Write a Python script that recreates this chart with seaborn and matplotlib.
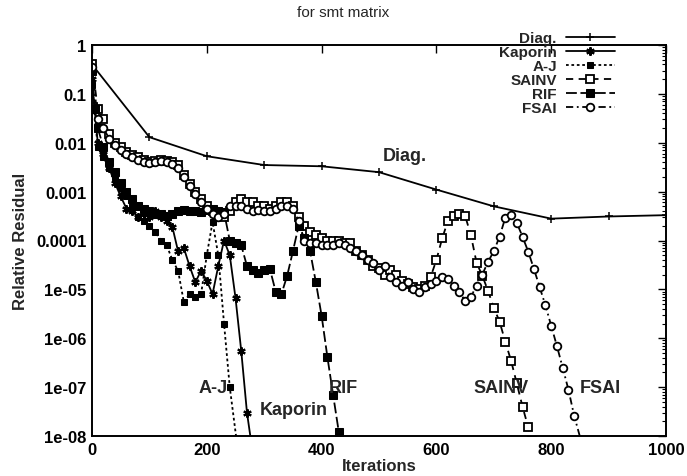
import matplotlib
matplotlib.use("Agg")
import matplotlib.pyplot as plt
import matplotlib.ticker as mticker
import numpy as np
import pandas as pd
import seaborn as sns

# ---------------- data ----------------
diag_it = [0, 100, 200, 300, 400, 500, 600, 700, 800, 900, 1000]
diag_res = [0.4, 0.013, 0.0053, 0.0035, 0.0033, 0.0025, 0.0011, 0.0005, 0.00028, 0.00031, 0.00033]

kap_it = [0, 10, 20, 30, 40, 50, 60, 70, 80, 90, 100, 110, 120, 130, 140, 150, 160,
          170, 180, 190, 200, 210, 220, 230, 240, 250, 260, 270, 277]
kap_res = [0.2, 0.01, 0.006, 0.003, 0.0015, 0.0008, 0.00045, 0.0004, 0.0003, 0.00035,
           0.0003, 0.0004, 0.0003, 0.00025, 0.00019, 0.00006, 0.00007, 0.00003, 0.000014,
           0.000024, 0.000015, 0.000008, 0.00003, 0.0001, 0.00005, 0.0000067, 0.00000055,
           0.00000003, 8e-9]

aj_it = [0, 10, 20, 30, 40, 50, 60, 70, 80, 90, 100, 110, 120, 130, 140, 150, 160,
         170, 180, 190, 200, 210, 220, 230, 240, 252]
aj_res = [0.15, 0.008, 0.005, 0.003, 0.002, 0.0012, 0.0008, 0.0005, 0.0003, 0.00025,
          0.0002, 0.00015, 0.0001, 0.00008, 0.00004, 0.000024, 0.0000055, 0.000008,
          0.000007, 0.000008, 0.00005, 0.00024, 0.00005, 0.000002, 0.0000001, 8e-9]

sainv_it = [0, 10, 20, 30, 40, 50, 60, 70, 80, 90, 100, 110, 120, 130, 140, 150, 160,
            170, 180, 190, 200, 210, 220, 230, 240, 250, 260, 270, 280, 290, 300, 310,
            320, 330, 340, 350, 360, 370, 380, 390, 400, 410, 420, 430, 440, 450, 460,
            470, 480, 490, 500, 510, 520, 530, 540, 550, 560, 570, 580, 590, 600, 610,
            620, 630, 640, 650, 660, 670, 680, 690, 700, 710, 720, 730, 740, 750, 760, 767]
sainv_res = [0.4, 0.05, 0.03, 0.015, 0.01, 0.008, 0.0065, 0.0055, 0.005, 0.0045, 0.004,
             0.0042, 0.0045, 0.0042, 0.004, 0.0035, 0.0022, 0.0014, 0.001, 0.0007, 0.0005,
             0.0004, 0.00035, 0.0003, 0.0004, 0.0006, 0.0007, 0.0006, 0.0006, 0.0005,
             0.0005, 0.00045, 0.0005, 0.0006, 0.0006, 0.0005, 0.0003, 0.0002, 0.00015,
             0.00013, 0.00011, 0.0001, 0.0001, 0.0001, 0.00009, 0.00009, 0.00006, 0.00005,
             0.00004, 0.00003, 0.000028, 0.00002, 0.000025, 0.00002, 0.000015, 0.000013,
             0.000011, 0.00001, 0.000012, 0.000018, 0.00004, 0.00011, 0.00025, 0.00031,
             0.00035, 0.00032, 0.00013, 0.000035, 0.000019, 0.0000093, 0.0000042,
             0.0000022, 0.00000085, 0.00000035, 0.00000012, 0.00000004, 0.000000015, 8e-9]

rif_it = [0, 5, 10, 20, 30, 40, 50, 60, 70, 80, 90, 100, 110, 120, 130, 140, 150, 160,
          170, 180, 190, 200, 210, 220, 230, 240, 250, 260, 270, 280, 290, 300, 310, 320,
          330, 340, 350, 360, 370, 380, 390, 400, 410, 420, 430, 434]
rif_res = [0.3, 0.05, 0.02, 0.008, 0.004, 0.0025, 0.0015, 0.001, 0.0007, 0.0005, 0.00045,
           0.0004, 0.00035, 0.00035, 0.00032, 0.00035, 0.0004, 0.00042, 0.0004, 0.0004,
           0.00038, 0.00042, 0.00045, 0.0004, 0.00038, 0.0001, 0.00009, 0.00008, 0.00003,
           0.000025, 0.000022, 0.000025, 0.000026, 0.000009, 0.000008, 0.000019, 0.00006,
           0.0002, 0.00011, 0.00006, 0.000014, 0.0000029, 0.00000042, 0.00000007, 1.2e-8,
           8e-9]

fsai_it = [0, 10, 20, 30, 40, 50, 60, 70, 80, 90, 100, 110, 120, 130, 140, 150, 160, 170,
           180, 190, 200, 210, 220, 230, 240, 250, 260, 270, 280, 290, 300, 310, 320, 330,
           340, 350, 360, 370, 380, 390, 400, 410, 420, 430, 440, 450, 460, 470, 480, 490,
           500, 510, 520, 530, 540, 550, 560, 570, 580, 590, 600, 610, 620, 630, 640, 650,
           660, 670, 680, 690, 700, 710, 720, 730, 740, 750, 760, 770, 780, 790, 800, 810,
           820, 830, 840, 852]
fsai_res = [0.35, 0.03, 0.02, 0.012, 0.009, 0.007, 0.006, 0.005, 0.0045, 0.004, 0.0038,
            0.004, 0.0043, 0.004, 0.0037, 0.003, 0.002, 0.0013, 0.0009, 0.0006, 0.00045,
            0.00035, 0.0003, 0.00035, 0.0005, 0.0005, 0.0005, 0.00045, 0.0004, 0.00042,
            0.0004, 0.0004, 0.00045, 0.0005, 0.0005, 0.00045, 0.00025, 0.0001, 0.00009,
            0.00009, 0.00008, 0.00008, 0.00008, 0.00009, 0.00008, 0.00007, 0.00006,
            0.00005, 0.00004, 0.000035, 0.000025, 0.00003, 0.000018, 0.000014, 0.000012,
            0.000014, 0.00001, 0.000009, 0.000011, 0.000013, 0.000015, 0.000018, 0.000016,
            0.000012, 0.000009, 0.0000058, 0.000007, 0.000012, 0.00002, 0.000037, 0.00006,
            0.00012, 0.00029, 0.00034, 0.00023, 0.00012, 0.000059, 0.000026, 0.000011,
            0.0000047, 0.0000018, 0.00000069, 0.00000025, 0.000000089, 0.000000026, 8e-9]

y_ticks = [1, 0.1, 0.01, 0.001, 0.0001, 1e-5, 1e-6, 1e-7, 1e-8]
y_tick_labels = ["1", "0.1", "0.01", "0.001", "0.0001", "1e-05", "1e-06", "1e-07", "1e-08"]
x_ticks = [0, 200, 400, 600, 800, 1000]

# ---------------- plot ----------------
sns.set_theme(style="white")
plt.rcParams["font.family"] = ["Liberation Sans", "DejaVu Sans"]
plt.rcParams["font.weight"] = "bold"

fig = plt.figure(figsize=(6.87, 4.77), dpi=100)
ax = fig.add_axes([92 / 687, 1 - 437 / 477, (666 - 92) / 687, (437 - 46) / 477])

series = [
    ("Diag.", diag_it, diag_res, dict(marker="+", markersize=6, mfc="black",
                                      linestyle="-", markeredgewidth=1.1)),
    ("Kaporin", kap_it, kap_res, dict(marker=(6, 2, 0), markersize=6, mfc="black",
                                      linestyle="-", markeredgewidth=1.5)),
    ("A-J", aj_it, aj_res, dict(marker="s", markersize=4.5, mfc="black",
                                linestyle=(0, (1.5, 1.5)))),
    ("SAINV", sainv_it, sainv_res, dict(marker="s", markersize=5.5, mfc="white",
                                        linestyle=(0, (4, 3)), markeredgewidth=1.3)),
    ("RIF", rif_it, rif_res, dict(marker="s", markersize=5.5, mfc="black",
                                  linestyle=(0, (6, 2)))),
    ("FSAI", fsai_it, fsai_res, dict(marker="o", markersize=5.5, mfc="white",
                                     linestyle=(0, (4, 2, 1, 2)), markeredgewidth=1.3)),
]

for name, xs, ys, style in series:
    df = pd.DataFrame({"Iterations": xs, "res": ys})
    sns.lineplot(data=df, x="Iterations", y="res", ax=ax, color="black",
                 linewidth=1.3, mec="black", sort=False, estimator=None,
                 label=name, **style)

ax.set_yscale("log")
ax.set_xlim(0, 1000)
ax.set_ylim(1e-8, 1)
ax.set_xticks(x_ticks)
ax.set_xticklabels([str(v) for v in x_ticks])
ax.yaxis.set_major_locator(mticker.FixedLocator(y_ticks))
ax.yaxis.set_major_formatter(mticker.FixedFormatter(y_tick_labels))
ax.yaxis.set_minor_locator(mticker.LogLocator(base=10, subs=np.arange(2, 10), numticks=20))
ax.yaxis.set_minor_formatter(mticker.NullFormatter())

ax.tick_params(axis="both", which="both", direction="in", top=True, right=True,
               colors="black", labelsize=12, pad=4)
ax.tick_params(axis="both", which="major", length=6, width=1)
ax.tick_params(axis="y", which="minor", length=3, width=0.8)
for sp in ax.spines.values():
    sp.set_color("black")
    sp.set_linewidth(1.4)

ax.set_xlabel("Iterations", fontsize=12, labelpad=1, fontweight="bold")
ax.set_ylabel("Relative Residual", fontsize=12, labelpad=6, fontweight="bold")
fig.text(0.5, 1 - 13 / 477, "for smt matrix", fontsize=11, ha="center", va="center",
         fontweight="normal")

# in-plot labels
lab = dict(fontsize=13, va="center", fontweight="bold")
ax.text(545, 0.0055, "Diag.", ha="center", **lab)
ax.text(237, 1e-7, "A-J", ha="right", **lab)
ax.text(293, 3.5e-8, "Kaporin", ha="left", **lab)
ax.text(412, 1e-7, "RIF", ha="left", **lab)
ax.text(712, 1e-7, "SAINV", ha="center", **lab)
ax.text(886, 1e-7, "FSAI", ha="center", **lab)

leg = ax.legend(loc="upper right", bbox_to_anchor=(0.911, 1.035), frameon=False,
                markerfirst=False, prop={"size": 11, "weight": "bold"},
                labelspacing=0.0, handlelength=3.2, handletextpad=0.6,
                borderaxespad=0.0, borderpad=0.0)

fig.savefig("out.png", dpi=100, facecolor="white")
